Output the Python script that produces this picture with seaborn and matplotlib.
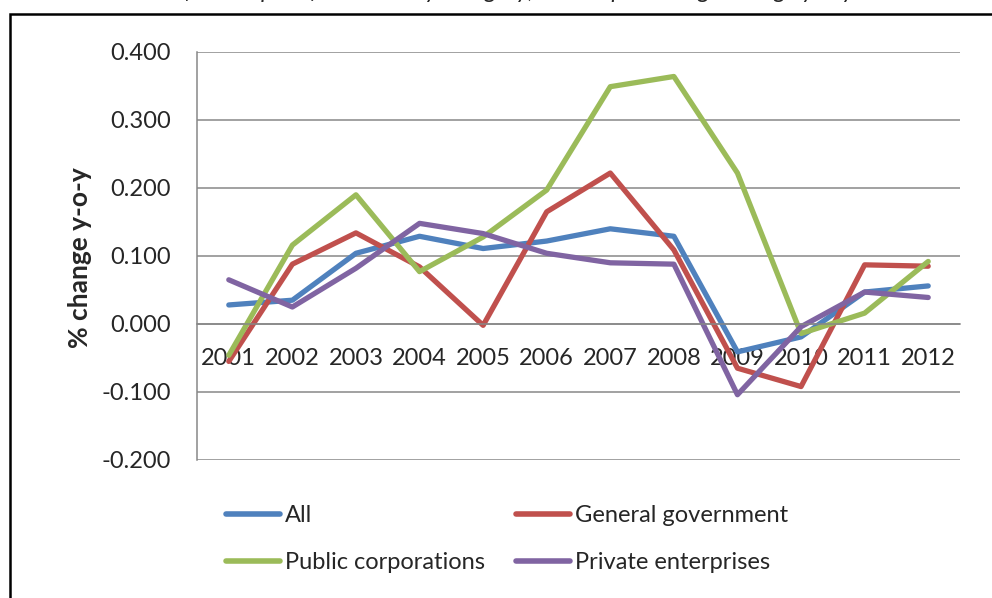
import seaborn as sns
import matplotlib.pyplot as plt
import pandas as pd
from matplotlib.patches import Rectangle
from matplotlib.ticker import FixedLocator, FuncFormatter

# values (% change y-o-y)
years = ["2001", "2002", "2003", "2004", "2005", "2006",
         "2007", "2008", "2009", "2010", "2011", "2012"]
all_cat = [0.028, 0.035, 0.104, 0.129, 0.111, 0.122, 0.140, 0.129, -0.041, -0.019, 0.047, 0.056]
gen_gov = [-0.055, 0.088, 0.134, 0.084, -0.002, 0.165, 0.222, 0.109, -0.065, -0.092, 0.087, 0.085]
pub_corp = [-0.046, 0.116, 0.190, 0.077, 0.128, 0.197, 0.349, 0.364, 0.222, -0.014, 0.016, 0.092]
priv_ent = [0.065, 0.025, 0.082, 0.148, 0.133, 0.104, 0.090, 0.088, -0.104, -0.004, 0.047, 0.039]

series = {
    "All": all_cat,
    "General government": gen_gov,
    "Public corporations": pub_corp,
    "Private enterprises": priv_ent,
}
colors = ["#4F81BD", "#C0504D", "#9BBB59", "#8064A2"]

df = pd.DataFrame(series, index=years).reset_index(names="year")
long = df.melt(id_vars="year", var_name="category", value_name="change")
long["pos"] = long["year"].map({y: i for i, y in enumerate(years)})

sns.set_style("white")
plt.rcParams["font.family"] = ["Lato", "DejaVu Sans"]

fig = plt.figure(figsize=(9.92, 5.98), dpi=100)
ax = fig.add_axes([197 / 992, 1 - 460 / 598, (960 - 197) / 992, (460 - 52) / 598])

sns.lineplot(data=long, x="pos", y="change", hue="category",
             palette=colors, linewidth=3.8, ax=ax, legend=False,
             solid_capstyle="round", solid_joinstyle="round")

grid_col = "#878787"
ax.set_ylim(-0.2, 0.4)
ax.set_xlim(-0.5, len(years) - 0.5)
ax.set_yticks([-0.2, -0.1, 0.0, 0.1, 0.2, 0.3, 0.4])
ax.yaxis.set_major_formatter(FuncFormatter(lambda v, p: f"{v:.3f}"))
ax.yaxis.grid(True, color=grid_col, linewidth=1.1)
ax.set_axisbelow(True)

# category axis crossing at zero, ticks between categories
ax.spines["bottom"].set_position(("data", 0))
ax.xaxis.set_major_locator(FixedLocator([i - 0.5 for i in range(len(years) + 1)]))
ax.xaxis.set_major_formatter(FuncFormatter(lambda v, p: ""))
ax.xaxis.set_minor_locator(FixedLocator(list(range(len(years)))))
ax.set_xticklabels(years, minor=True)
ax.tick_params(axis="x", which="major", direction="out", length=6.5, width=1.1, color=grid_col)
ax.tick_params(axis="x", which="minor", length=0, pad=17, labelsize=17)
ax.tick_params(axis="y", direction="out", length=5, width=1.1, color=grid_col, pad=14, labelsize=17)
ax.set_xlabel("")
ax.set_ylabel("")

for side in ["top", "right"]:
    ax.spines[side].set_visible(False)
for side in ["left", "bottom"]:
    ax.spines[side].set_color(grid_col)
    ax.spines[side].set_linewidth(1.1)

fig.text(80 / 992, 1 - 258 / 598, "% change y-o-y", rotation=90,
         ha="center", va="center", fontsize=19, fontweight="bold")

# legend in row order, like the original
handles = [plt.Line2D([], [], color=c, linewidth=4, solid_capstyle="round") for c in colors]
labels = list(series.keys())
order = [0, 2, 1, 3]
fig.legend([handles[i] for i in order], [labels[i] for i in order],
           loc="upper left", bbox_to_anchor=(226 / 992, 1 - 505 / 598),
           ncol=2, frameon=False, fontsize=17, borderpad=0, borderaxespad=0,
           handlelength=2.3, handletextpad=0.2, columnspacing=1.3, labelspacing=1.1)

# chart frame and the cut-off title
fig.patches.append(Rectangle((10 / 992, -0.1), 2, 1.1 - 14 / 598, transform=fig.transFigure,
                             fill=False, edgecolor="black", linewidth=1.8))
fig.text(124 / 992, 1 + 2 / 598, "Gross fixed capital formation by category, annual percentage change y-o-y",
         ha="left", va="baseline", fontsize=17, style="italic")

fig.savefig("out.png", dpi=100)
